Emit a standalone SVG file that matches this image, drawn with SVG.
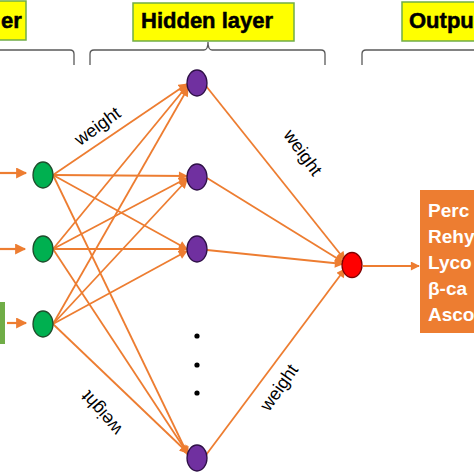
<svg xmlns="http://www.w3.org/2000/svg" width="474" height="474" viewBox="0 0 474 474">
<style>
.hdr{fill:#FFFF00;stroke:#70AD47;stroke-width:1.5}
.htxt{font-family:"Liberation Sans",Arial,sans-serif;font-weight:bold;font-size:22px;fill:#000;stroke:#000;stroke-width:0.5}
.brk{fill:none;stroke:#595959;stroke-width:1.3}
.edge{stroke:#ED7D31;stroke-width:1.8;fill:none}
.inp{stroke-width:2.2}
.arr{marker-end:url(#ah)}
.g{fill:#00B050;stroke:#1E4D2B;stroke-width:1.3}
.p{fill:#7030A0;stroke:#2E1046;stroke-width:1.3}
.r{fill:#FF0000;stroke:#7F0000;stroke-width:1.3}
.w{font-family:"Liberation Sans",Arial,sans-serif;font-size:18px;fill:#000}
.otxt{font-family:"Liberation Sans",Arial,sans-serif;font-weight:bold;font-size:19px;fill:#fff}
</style>
<defs>
<marker id="ah" viewBox="0 0 10 10" refX="9" refY="5" markerWidth="5.5" markerHeight="5" orient="auto" markerUnits="strokeWidth">
<path d="M0,0 L10,5 L0,10 z" fill="#ED7D31"/>
</marker>
</defs>
<rect width="474" height="474" fill="#fff"/>

<g id="headers">
<g id="input-header"><rect class="hdr" x="-10" y="1" width="36" height="39"/><text class="htxt" x="1" y="28">er</text></g>
<g id="hidden-header"><rect class="hdr" x="133" y="3" width="161" height="38"/><text class="htxt" x="141" y="28">Hidden layer</text></g>
<g id="output-header"><rect class="hdr" x="402" y="2" width="80" height="39"/><text class="htxt" x="409" y="28">Outpu</text></g>
</g>

<g id="brackets">
<path class="brk" d="M0,50 H70 Q74,50 74,54 V65"/>
<path class="brk" d="M90,65 V54 Q90,50 94,50 H204 Q208,50 208,42 Q208,50 212,50 H321 Q325,50 325,54 V65"/>
<path class="brk" d="M362,65 V54 Q362,50 366,50 H474"/>
</g>

<g id="connectors">
<line class="edge inp arr" x1="0" y1="173" x2="26" y2="173"/>
<line class="edge inp arr" x1="0" y1="249" x2="25" y2="249"/>
<line class="edge inp arr" x1="7" y1="323" x2="26" y2="323"/>
<line class="edge arr" x1="53" y1="175" x2="187" y2="84"/>
<line class="edge arr" x1="53" y1="175" x2="187" y2="176"/>
<line class="edge arr" x1="53" y1="175" x2="187" y2="249"/>
<line class="edge arr" x1="53" y1="175" x2="188" y2="455"/>
<line class="edge arr" x1="53" y1="249" x2="187" y2="86"/>
<line class="edge arr" x1="53" y1="249" x2="187" y2="178"/>
<line class="edge arr" x1="53" y1="249" x2="187" y2="249"/>
<line class="edge arr" x1="53" y1="249" x2="188" y2="454"/>
<line class="edge arr" x1="53" y1="324" x2="188" y2="88"/>
<line class="edge arr" x1="53" y1="324" x2="187" y2="180"/>
<line class="edge arr" x1="53" y1="324" x2="187" y2="251"/>
<line class="edge arr" x1="53" y1="324" x2="188" y2="453"/>
<line class="edge arr" x1="206" y1="86" x2="345" y2="260"/>
<line class="edge arr" x1="207" y1="178" x2="343" y2="262"/>
<line class="edge arr" x1="207" y1="250" x2="343" y2="264"/>
<line class="edge arr" x1="206" y1="455" x2="345" y2="269"/>
<line class="edge arr" x1="363" y1="266" x2="419" y2="266"/>
</g>

<g id="input-source"><rect x="-4" y="302" width="9" height="42" fill="#70AD47"/></g>

<g id="input-nodes">
<ellipse id="in1" class="g" cx="43" cy="175" rx="10" ry="13"/>
<ellipse id="in2" class="g" cx="43" cy="249" rx="10" ry="13"/>
<ellipse id="in3" class="g" cx="43" cy="324" rx="10" ry="13"/>
</g>

<g id="hidden-nodes">
<ellipse id="h1" class="p" cx="197" cy="83" rx="10" ry="13"/>
<ellipse id="h2" class="p" cx="197" cy="177" rx="10" ry="13"/>
<ellipse id="h3" class="p" cx="197" cy="249" rx="10" ry="13"/>
<ellipse id="h4" class="p" cx="197" cy="458" rx="10" ry="13"/>
<circle cx="197" cy="336" r="2.6" fill="#000"/>
<circle cx="197" cy="365" r="2.6" fill="#000"/>
<circle cx="197" cy="393" r="2.6" fill="#000"/>
</g>

<g id="output-node"><ellipse class="r" cx="352" cy="265" rx="10" ry="12.5"/></g>

<g id="output-box">
<rect x="420" y="190" width="60" height="143" fill="#ED7D31"/>
<text class="otxt" x="428" y="217">Perc</text>
<text class="otxt" x="428" y="243">Rehy</text>
<text class="otxt" x="428" y="269">Lyco</text>
<text class="otxt" x="428" y="295">β-ca</text>
<text class="otxt" x="428" y="321">Asco</text>
</g>

<g id="labels">
<text class="w" text-anchor="middle" transform="translate(101,131) rotate(-36)">weight</text>
<text class="w" text-anchor="middle" transform="translate(298,156) rotate(54)">weight</text>
<text class="w" text-anchor="middle" transform="translate(284,391) rotate(-55)">weight</text>
<text class="w" text-anchor="middle" transform="translate(106,409) rotate(229)">weight</text>
</g>
</svg>
